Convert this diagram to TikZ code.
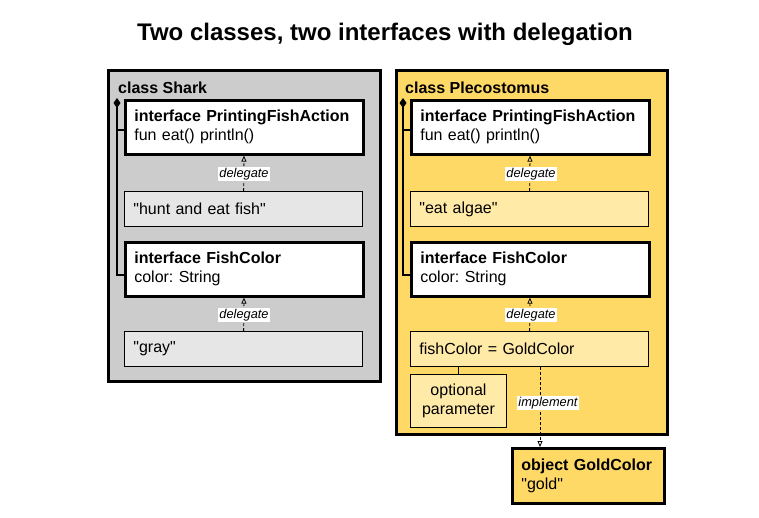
\documentclass[tikz,border=0pt]{standalone}
\usepackage{fontspec}
\setmainfont{Liberation Sans}[Ligatures=TeXOff]
\usetikzlibrary{arrows.meta,calc}
\definecolor{sharkgray}{HTML}{CCCCCC}
\definecolor{sharklight}{HTML}{E6E6E6}
\definecolor{plecoyellow}{HTML}{FFD966}
\definecolor{plecolight}{HTML}{FFEAA8}
\def\bodysize{\fontsize{16}{19}\selectfont}
\def\smallsize{\fontsize{12.8}{14}\selectfont}
\frenchspacing

\begin{document}
\begin{tikzpicture}[x=1pt,y=-1pt]
\tikzstyle{outer}=[draw,line width=2.8pt,anchor=north west,inner sep=0pt]
\tikzstyle{classlbl}=[anchor=base west,inner sep=0pt,font=\bfseries\bodysize]
\tikzstyle{iface}=[draw,line width=2.6pt,fill=white,anchor=north west,inner xsep=9pt,text width=220pt,minimum height=54pt,align=left,font=\bodysize]
\tikzstyle{member}=[draw,line width=0.8pt,anchor=north west,inner xsep=9pt,text width=220pt,minimum height=35pt,align=left,font=\bodysize]
\tikzstyle{tag}=[fill=white,inner xsep=1.5pt,inner ysep=1pt,font=\itshape\smallsize]
\tikzstyle{deleg}=[line width=0.8pt,dash pattern=on 3pt off 2pt,-{Triangle[open,length=6pt,width=5pt]}]
\tikzstyle{compose}=[line width=1.8pt,{Diamond[length=10pt,width=7pt]}-]

\useasboundingbox (0,0) rectangle (759,517);

\node (title) [anchor=base,font=\bfseries\fontsize{24}{28}\selectfont] at (385,40) {Two classes, two interfaces with delegation};

% class Shark
\node (shark) [outer,fill=sharkgray,minimum width=272pt,minimum height=311pt] at (107,69) {};
\node (sharklbl) [classlbl] at (118,93) {class Shark};
\node (spfa) [iface] at (124,99) {\textbf{interface PrintingFishAction}\\fun eat() println()};
\node (shunt) [member,fill=sharklight] at (124,191) {"hunt and eat fish"};
\node (sfc) [iface] at (124,241) {\textbf{interface FishColor}\\color: String};
\node (sgray) [member,fill=sharklight] at (124,331) {"gray"};

\draw [deleg] (shunt) -- (spfa);
\draw [deleg] (sgray) -- (sfc);
\node (sdel1) [tag] at (244,174) {delegate};
\node (sdel2) [tag] at (244,315) {delegate};

\coordinate (sharkdia) at ($(spfa.north west)+(-7,-1)$);
\draw [compose] (sharkdia) |- ($(sfc.west)+(0,6)$);
\draw [line width=1.8pt] ($(spfa.west)+(-7,3)$) -- ($(spfa.west)+(0,3)$);

% class Plecostomus
\node (pleco) [outer,fill=plecoyellow,minimum width=271pt,minimum height=364pt] at (395,69) {};
\node (plecolbl) [classlbl] at (405,93) {class Plecostomus};
\node (ppfa) [iface] at (410,99) {\textbf{interface PrintingFishAction}\\fun eat() println()};
\node (palgae) [member,fill=plecolight] at (410,191) {"eat algae"};
\node (pfc) [iface] at (410,241) {\textbf{interface FishColor}\\color: String};
\node (pfish) [member,fill=plecolight] at (410,331) {fishColor = GoldColor};
\node (popt) [draw,line width=1pt,fill=plecolight,anchor=north west,minimum width=96pt,minimum height=53pt,align=center,font=\bodysize] at (410,374) {optional\\parameter};

\draw [deleg] (palgae) -- (ppfa);
\draw [deleg] (pfish) -- (pfc);
\node (pdel1) [tag] at (531,174) {delegate};
\node (pdel2) [tag] at (531,315) {delegate};

\coordinate (plecodia) at ($(ppfa.north west)+(-7,-1)$);
\draw [compose] (plecodia) |- ($(pfc.west)+(0,6)$);
\draw [line width=1.8pt] ($(ppfa.west)+(-7,3)$) -- ($(ppfa.west)+(0,3)$);

\draw [line width=0.8pt] (popt.north) -- (popt.north |- pfish.south);

% object GoldColor
\node (gold) [draw,line width=2.8pt,fill=plecoyellow,anchor=north west,inner xsep=9pt,text width=134pt,minimum height=55pt,align=left,font=\bodysize] at (511,447) {\textbf{object GoldColor}\\"gold"};

\coordinate (implsrc) at ($(pfish.south west)+(130,0)$);
\draw [deleg] (implsrc) -- (implsrc |- gold.north);
\node (pimpl) [tag] at (548,403) {implement};

\end{tikzpicture}
\end{document}
